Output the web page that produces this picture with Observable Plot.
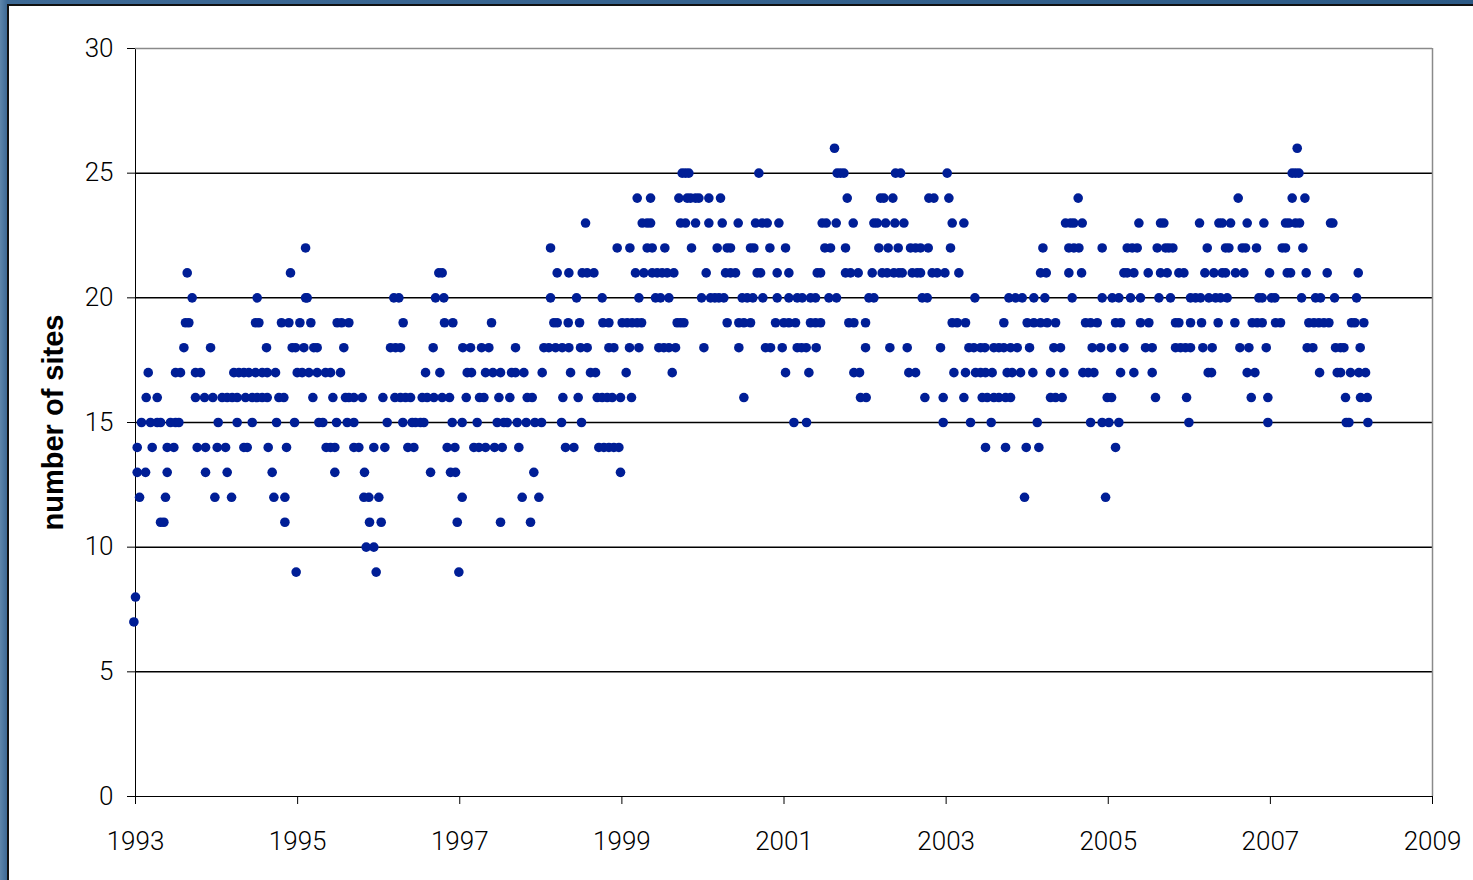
<!DOCTYPE html>
<html><head><meta charset="utf-8">
<script src="https://cdn.jsdelivr.net/npm/d3@7"></script>
<script src="https://cdn.jsdelivr.net/npm/@observablehq/plot@0.6"></script>
<style>
html,body{margin:0;padding:0;width:1473px;height:880px;overflow:hidden;}
body{background:linear-gradient(90deg,#5d85ab 0,#3d6995 7px,#2c5a86 100%);position:relative;}
#panel{position:absolute;left:7px;top:4px;width:1490px;height:900px;background:#fff;border:2px solid #111;box-sizing:border-box;}
#chart{position:absolute;left:0;top:0;}
</style></head><body><div id="panel"></div><div id="chart"></div>
<script>
// number of sites (value levels) and the dates (decimal years) at which each level was observed
const levels = [26,25,24,23,22,21,20,19,18,17,16,15,14,13,12,11,10,9,8,7];
const datesByLevel = [
 [2001.623,2007.331],
 [1999.744,1999.785,1999.826,2000.690,2001.656,2001.697,2001.739,2002.376,2002.438,2003.013,2007.269,2007.310,2007.352],
 [1999.189,1999.354,1999.703,1999.806,1999.847,1999.909,1999.950,2000.073,2000.217,2001.780,2002.191,2002.232,2002.343,2002.787,2002.849,2003.034,2004.629,2006.603,2007.269,2007.426],
 [1998.552,1999.251,1999.312,1999.354,1999.724,1999.785,1999.909,2000.073,2000.238,2000.435,2000.649,2000.731,2000.793,2000.937,2001.471,2001.521,2001.644,2001.854,2002.109,2002.150,2002.253,2002.368,2002.479,2003.075,2003.219,2004.473,2004.535,2004.576,2004.679,2005.378,2005.645,2005.686,2006.126,2006.365,2006.406,2006.509,2006.714,2006.920,2007.187,2007.228,2007.310,2007.360,2007.742,2007.771],
 [1995.098,1998.120,1998.942,1999.099,1999.312,1999.374,1999.530,1999.859,2000.176,2000.299,2000.340,2000.587,2000.628,2000.826,2001.019,2001.504,2001.574,2001.759,2002.170,2002.285,2002.409,2002.561,2002.623,2002.684,2002.779,2003.054,2004.194,2004.514,2004.576,2004.638,2004.925,2005.234,2005.296,2005.357,2005.604,2005.707,2005.748,2005.797,2006.221,2006.447,2006.488,2006.653,2006.694,2006.829,2007.146,2007.187,2007.401],
 [1993.638,1994.912,1996.742,1996.783,1998.202,1998.346,1998.511,1998.572,1998.655,1999.168,1999.271,1999.374,1999.436,1999.497,1999.559,1999.641,2000.040,2000.279,2000.340,2000.402,2000.669,2000.711,2000.916,2001.060,2001.410,2001.451,2001.759,2001.821,2001.915,2002.088,2002.211,2002.273,2002.355,2002.417,2002.458,2002.582,2002.643,2002.684,2002.828,2002.890,2002.985,2003.157,2004.165,2004.235,2004.514,2004.671,2005.193,2005.234,2005.316,2005.493,2005.645,2005.727,2005.871,2005.933,2006.192,2006.303,2006.406,2006.447,2006.570,2006.673,2006.990,2007.208,2007.249,2007.442,2007.701,2008.084],
 [1993.699,1994.501,1995.098,1995.118,1996.187,1996.249,1996.701,1996.804,1998.120,1998.441,1998.757,1999.210,1999.415,1999.477,1999.580,1999.983,2000.094,2000.147,2000.197,2000.258,2000.484,2000.546,2000.616,2000.739,2000.916,2001.060,2001.163,2001.225,2001.327,2001.389,2001.554,2001.648,2002.047,2002.109,2002.705,2002.767,2003.355,2003.774,2003.856,2003.939,2004.082,2004.218,2004.555,2004.925,2005.049,2005.131,2005.275,2005.398,2005.625,2005.768,2006.015,2006.077,2006.139,2006.241,2006.324,2006.385,2006.467,2006.858,2006.899,2007.014,2007.056,2007.385,2007.557,2007.619,2007.792,2008.063],
 [1993.617,1993.658,1994.481,1994.522,1994.801,1994.892,1995.028,1995.163,1995.488,1995.542,1995.632,1996.302,1996.812,1996.915,1997.392,1998.161,1998.202,1998.338,1998.478,1998.766,1998.840,1999.004,1999.066,1999.127,1999.189,1999.243,1999.682,1999.724,1999.765,2000.299,2000.443,2000.505,2000.587,2000.896,2000.998,2001.060,2001.142,2001.327,2001.389,2001.451,2001.800,2001.862,2002.006,2003.075,2003.137,2003.239,2003.712,2004.000,2004.082,2004.165,2004.247,2004.350,2004.720,2004.782,2004.864,2005.090,2005.152,2005.398,2005.501,2005.830,2005.871,2006.015,2006.151,2006.356,2006.562,2006.776,2006.838,2006.899,2007.064,2007.125,2007.475,2007.537,2007.598,2007.660,2007.722,2008.001,2008.042,2008.153],
 [1993.597,1993.926,1994.616,1994.933,1994.974,1995.077,1995.200,1995.241,1995.570,1996.146,1996.208,1996.269,1996.672,1997.038,1997.133,1997.269,1997.359,1997.688,1998.038,1998.099,1998.182,1998.264,1998.346,1998.490,1998.572,1998.840,1998.901,1999.094,1999.210,1999.456,1999.518,1999.580,1999.662,2000.012,2000.443,2000.772,2000.834,2000.978,2001.163,2001.216,2001.274,2001.397,2002.006,2002.306,2002.520,2002.931,2003.281,2003.342,2003.425,2003.478,2003.589,2003.651,2003.712,2003.795,2003.877,2004.029,2004.329,2004.411,2004.802,2004.905,2005.041,2005.193,2005.460,2005.542,2005.830,2005.892,2005.953,2006.015,2006.167,2006.282,2006.624,2006.735,2006.949,2007.454,2007.524,2007.804,2007.866,2007.907,2008.108],
 [1993.157,1993.494,1993.555,1993.740,1993.802,1994.213,1994.275,1994.337,1994.398,1994.481,1994.563,1994.625,1994.727,1994.995,1995.056,1995.139,1995.241,1995.344,1995.406,1995.529,1996.578,1996.755,1997.092,1997.145,1997.318,1997.409,1997.503,1997.639,1997.688,1997.791,1998.017,1998.367,1998.613,1998.675,1999.053,1999.621,2001.019,2001.307,2001.862,2001.932,2002.540,2002.623,2003.096,2003.239,2003.363,2003.425,2003.486,2003.568,2003.753,2003.815,2003.918,2004.070,2004.288,2004.453,2004.687,2004.753,2004.823,2005.152,2005.316,2005.542,2006.233,2006.274,2006.714,2006.809,2007.607,2007.825,2007.866,2007.989,2008.092,2008.174],
 [1993.132,1993.268,1993.740,1993.852,1993.954,1994.069,1994.131,1994.193,1994.254,1994.357,1994.440,1994.501,1994.563,1994.625,1994.769,1994.830,1995.188,1995.435,1995.591,1995.632,1995.694,1995.797,1996.052,1996.200,1996.269,1996.331,1996.393,1996.537,1996.598,1996.681,1996.783,1996.874,1997.080,1997.244,1997.298,1997.483,1997.618,1997.832,1997.894,1998.272,1998.461,1998.696,1998.757,1998.819,1998.881,1998.983,1999.119,2000.505,2001.944,2002.014,2002.738,2002.964,2003.219,2003.445,2003.507,2003.589,2003.651,2003.733,2003.795,2004.288,2004.350,2004.432,2004.987,2005.041,2005.583,2005.966,2006.764,2006.969,2007.927,2008.112,2008.195],
 [1993.074,1993.185,1993.268,1993.309,1993.432,1993.494,1993.535,1994.020,1994.254,1994.440,1994.740,1994.962,1995.262,1995.311,1995.480,1995.612,1995.694,1996.105,1996.298,1996.413,1996.454,1996.516,1996.557,1996.907,1997.030,1997.215,1997.462,1997.544,1997.585,1997.709,1997.820,1997.927,1998.009,1998.256,1998.502,2001.122,2001.278,2002.964,2003.301,2003.556,2004.124,2004.782,2004.925,2005.008,2005.131,2005.995,2006.969,2007.936,2007.969,2008.203],
 [1993.021,1993.206,1993.391,1993.473,1993.761,1993.864,1994.008,1994.111,1994.337,1994.378,1994.637,1994.863,1995.352,1995.406,1995.459,1995.694,1995.755,1995.940,1996.076,1996.360,1996.434,1996.845,1996.940,1997.174,1997.236,1997.318,1997.429,1997.524,1997.729,1998.305,1998.408,1998.716,1998.778,1998.840,1998.901,1998.963,2003.486,2003.733,2003.988,2004.144,2005.090],
 [1993.021,1993.124,1993.391,1993.864,1994.131,1994.686,1995.459,1995.825,1996.640,1996.886,1996.948,1997.914,1998.983],
 [1993.050,1993.370,1993.979,1994.185,1994.707,1994.843,1995.817,1995.879,1996.002,1997.030,1997.770,1997.976,2003.967,2004.967],
 [1993.309,1993.350,1994.843,1995.887,1996.031,1996.969,1997.503,1997.873],
 [1995.846,1995.940],
 [1994.982,1995.969,1996.989],
 [1993.000],
 [1992.980]
];
const yearTicks = [1993,1995,1997,1999,2001,2003,2005,2007,2009];
const siteTicks = [0,5,10,15,20,25,30];
const gridLines = [5,10,15,20,25];
const yTitle = "number of sites";

const data = levels.flatMap((v, i) => datesByLevel[i].map(d => ({year: d, sites: v})));

const chart = Plot.plot({
  width: 1473,
  height: 880,
  marginLeft: 135,
  marginRight: 41,
  marginTop: 48,
  marginBottom: 84,
  style: {background: "transparent", fontFamily: "Roboto, 'Liberation Sans', sans-serif", fontSize: "26px", fontWeight: 300, color: "#000", overflow: "visible"},
  x: {domain: [1993, 2009], ticks: yearTicks, tickFormat: d => String(d), tickSize: 8, tickPadding: 27, label: null, line: true},
  y: {domain: [0, 30], ticks: siteTicks, tickSize: 8, tickPadding: 14, label: null, line: true},
  marks: [
    Plot.ruleY(gridLines, {stroke: "#000", strokeWidth: 1.5}),
    Plot.ruleY([30], {stroke: "#8a8a8a", strokeWidth: 1.5}),
    Plot.ruleX([2009], {stroke: "#8a8a8a", strokeWidth: 1.5}),
    Plot.dot(data, {x: "year", y: "sites", r: 4.8, fill: "#001e96", stroke: "none"}),
    Plot.text([yTitle], {text: d => d, frameAnchor: "left", textAnchor: "middle", rotate: -90, dx: -82, fontWeight: "bold", fontSize: 29, fontFamily: "'Liberation Sans', Arial, sans-serif", fill: "#000"})
  ]
});
document.getElementById("chart").appendChild(chart);
</script></body></html>
